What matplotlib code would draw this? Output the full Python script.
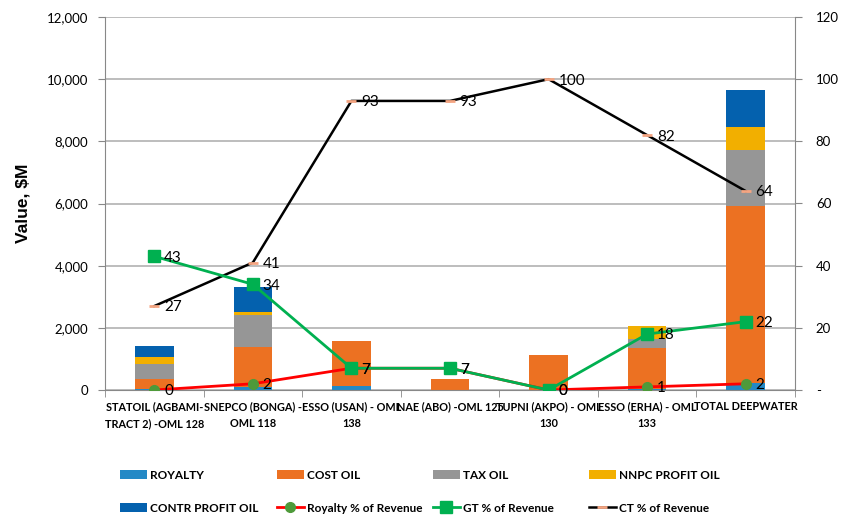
import numpy as np
import matplotlib
matplotlib.use("Agg")
import matplotlib.pyplot as plt

plt.rcParams['font.family'] = ['Lato', 'DejaVu Sans']

# data
fields = ["STATOIL (AGBAMI-\nTRACT 2) -OML 128", "SNEPCO (BONGA) -\nOML 118",
          "ESSO (USAN) - OML\n138", "NAE (ABO) -OML 125",
          "TUPNI (AKPO) - OML\n130", "ESSO (ERHA) - OML\n133", "TOTAL DEEPWATER"]
royalty = [20, 85, 130, 0, 0, 20, 215]
cost_oil = [330, 1290, 1445, 340, 1125, 1340, 5710]
tax_oil = [500, 1040, 0, 0, 0, 270, 1790]
nnpc_profit = [200, 85, 0, 0, 0, 430, 750]
contr_profit = [380, 815, 0, 0, 0, 0, 1180]
royalty_pct = [0, 2, 7, 7, 0, 1, 2]
gt_pct = [43, 34, 7, 7, 0, 18, 22]
ct_pct = [27, 41, 93, 93, 100, 82, 64]

bar_names = ["ROYALTY", "COST OIL", "TAX OIL", "NNPC PROFIT OIL", "CONTR PROFIT OIL"]
bar_colors = ["#2389C6", "#EC7122", "#969696", "#F2AF00", "#0461AE"]

fig = plt.figure(figsize=(8.42, 5.17), dpi=100)
ax = fig.add_axes([105/842, 1 - 390/517, 690/842, 373/517])
x = np.arange(len(fields))

bottom = np.zeros(len(fields))
bars = []
for vals, name, col in zip([royalty, cost_oil, tax_oil, nnpc_profit, contr_profit], bar_names, bar_colors):
    b = ax.bar(x, vals, 0.39, bottom=bottom, color=col, label=name, zorder=2)
    bars.append(b)
    bottom += np.array(vals)

ax.set_xlim(-0.5, len(fields) - 0.5)
ax.set_ylim(0, 12000)
ax.set_yticks(np.arange(0, 12001, 2000))
ax.set_yticklabels([f"{v:,}" for v in range(0, 12001, 2000)], fontsize=9.5)
ax.yaxis.grid(True, color="#BDBDBD", linewidth=1.4, zorder=0)
ax.set_axisbelow(True)
ax.set_xticks(x)
ax.set_xticklabels(fields, fontsize=7.8, fontweight="bold", linespacing=1.7)
ax.set_xticks(np.arange(-0.5, len(fields), 1), minor=True)
ax.tick_params(axis="x", which="major", length=0, pad=8)
ax.tick_params(axis="x", which="minor", length=5, color="#888888")
ax.tick_params(axis="y", length=5, color="#888888", pad=7)
for s in ["top", "right"]:
    ax.spines[s].set_visible(False)
ax.spines["left"].set_color("#888888")
ax.spines["bottom"].set_color("#888888")
ax.set_ylabel("Value, $M", fontsize=12.5, fontweight="bold", family="Liberation Sans", labelpad=12)

ax2 = ax.twinx()
ax2.set_ylim(0, 120)
ax2.set_yticks(np.arange(0, 121, 20))
ax2.set_yticklabels(["-"] + [str(v) for v in range(20, 121, 20)], fontsize=9.5)
ax2.tick_params(axis="y", length=5, color="#888888", pad=10)
for s in ["top", "left", "bottom"]:
    ax2.spines[s].set_visible(False)
ax2.spines["right"].set_color("#888888")

l_ct, = ax2.plot(x, ct_pct, color="black", lw=1.8, marker="_", ms=7, mew=2,
                 mec="#F4A582", label="CT % of Revenue", zorder=3)
l_roy, = ax2.plot(x, royalty_pct, color="#FF0000", lw=2, marker="o", ms=7,
                  mfc="#4E9A3A", mec="#4E9A3A", label="Royalty % of Revenue", zorder=4)
l_gt, = ax2.plot(x, gt_pct, color="#00B050", lw=2, marker="s", ms=8,
                 mfc="#00B050", mec="#00B050", label="GT % of Revenue", zorder=5)

for series in [ct_pct, royalty_pct, gt_pct]:
    for xi, v in zip(x, series):
        ax2.annotate(str(v), (xi, v), xytext=(7, -1), textcoords="offset points",
                     ha="left", va="center", fontsize=11, zorder=6)

# legend: four columns of two entries each
columns = [(bars[0], bars[4]), (bars[1], l_roy), (bars[2], l_gt), (bars[3], l_ct)]
col_x = [115, 272, 428, 584]
for cx, hs in zip(col_x, columns):
    fig.legend(hs, [h.get_label() for h in hs], loc="upper left",
               bbox_to_anchor=(cx/842, 1 - 465/517), frameon=False,
               prop={"weight": "bold", "size": 8.5}, handlelength=2.3,
               handletextpad=0.25, labelspacing=1.85, borderaxespad=0)

fig.savefig("out.png", dpi=100)
